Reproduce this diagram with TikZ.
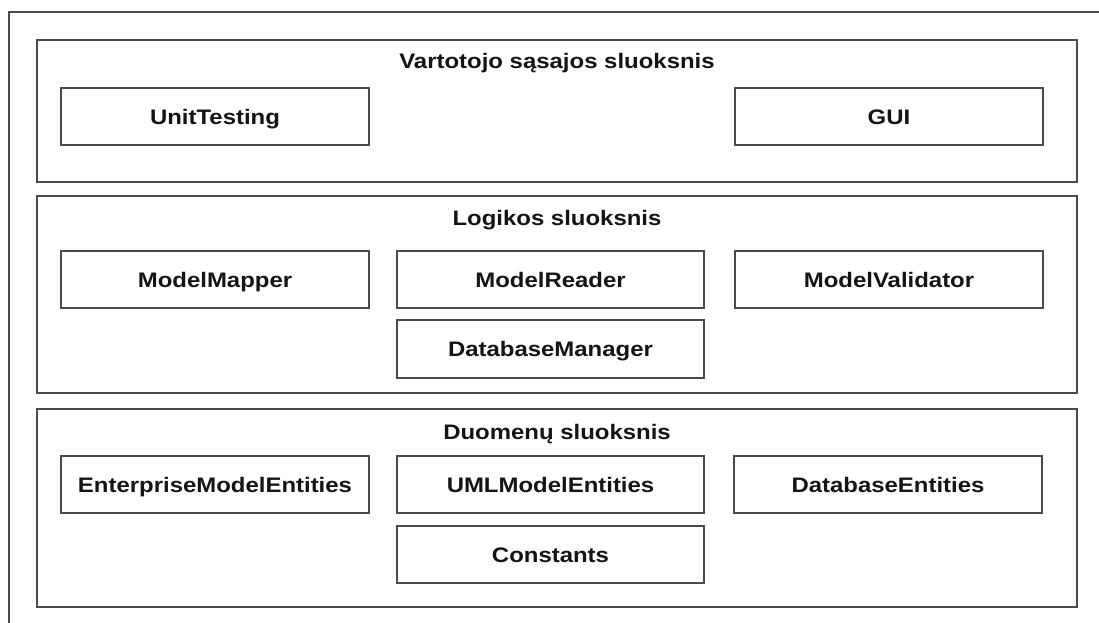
\documentclass[tikz,border=0pt]{standalone}
\usepackage{fontspec}
\newfontfamily\labfont[FakeStretch=1.14]{Liberation Sans}
\definecolor{linegray}{RGB}{75,75,75}
\definecolor{textblack}{RGB}{20,20,20}
\begin{document}
\begin{tikzpicture}[x=0.75pt,y=-0.75pt,
  layerbox/.style={draw=linegray,line width=1.3pt,inner sep=0pt,outer sep=0pt,minimum width=780pt},
  compbox/.style={draw=linegray,line width=1.3pt,inner sep=0pt,outer sep=0pt,minimum height=42.75pt,
    text height=11.3pt,text depth=0pt,
    font=\labfont\bfseries\fontsize{15.75}{18}\selectfont,text=textblack},
  titletext/.style={anchor=base,inner sep=0pt,font=\labfont\bfseries\fontsize{15.75}{18}\selectfont,text=textblack}]
\useasboundingbox (0,0) rectangle (1099,623);
\clip (0,0) rectangle (1099,623);
\fill[white] (0,0) rectangle (1099,623);
% outer frame (cropped)
\draw[linegray,line width=1.3pt] (9,12) rectangle (1110,640);
% layers
\node[layerbox,minimum height=106.5pt] (l1) at (557,111) {};
\node[layerbox,minimum height=147.75pt] (l2) at (557,294.5) {};
\node[layerbox,minimum height=148.5pt] (l3) at (557,508) {};
% titles
\node[titletext] (t1) at (557,69) {Vartotojo sąsajos sluoksnis};
\node[titletext] (t2) at (557,226) {Logikos sluoksnis};
\node[titletext] (t3) at (557,439) {Duomenų sluoksnis};
% components
\node[compbox,minimum width=231pt] (ut) at (215,116.5) {UnitTesting};
\node[compbox,minimum width=231pt] (gui) at (889,116.5) {GUI};
\node[compbox,minimum width=231pt] (mm) at (215,279.5) {ModelMapper};
\node[compbox,minimum width=230.25pt] (mr) at (550.5,279.5) {ModelReader};
\node[compbox,minimum width=231pt] (mv) at (889,279.5) {ModelValidator};
\node[compbox,minimum width=230.25pt,minimum height=43.5pt] (dm) at (550.5,349) {DatabaseManager};
\node[compbox,minimum width=231pt] (eme) at (215,484.5) {EnterpriseModelEntities};
\node[compbox,minimum width=230.25pt] (ume) at (550.5,484.5) {UMLModelEntities};
\node[compbox,minimum width=231pt] (de) at (888,484.5) {DatabaseEntities};
\node[compbox,minimum width=230.25pt] (co) at (550.5,554.5) {Constants};
\end{tikzpicture}
\end{document}
